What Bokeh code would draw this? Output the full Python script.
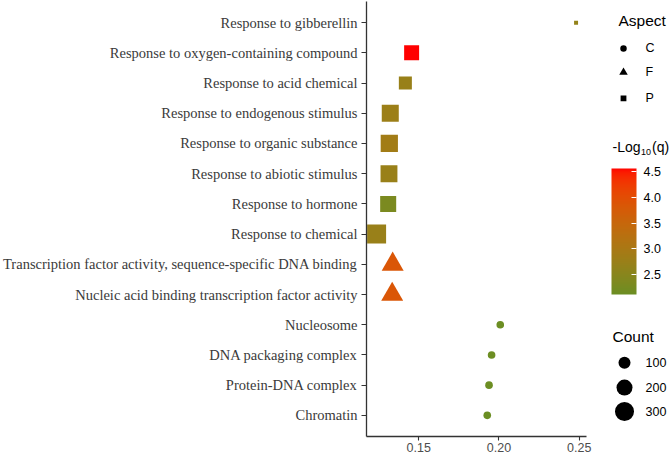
import numpy as np
from bokeh.plotting import figure
from bokeh.models import (ColumnDataSource, Range1d, FactorRange, FixedTicker, NumeralTickFormatter,
                          LinearColorMapper, ColorBar)
from bokeh.layouts import row
from bokeh.core.properties import value
from bokeh.embed import file_html
from bokeh.resources import INLINE

# ---------------- data (top to bottom as displayed) ----------------
terms = [
    "Response to gibberellin",
    "Response to oxygen-containing compound",
    "Response to acid chemical",
    "Response to endogenous stimulus",
    "Response to organic substance",
    "Response to abiotic stimulus",
    "Response to hormone",
    "Response to chemical",
    "Transcription factor activity, sequence-specific DNA binding",
    "Nucleic acid binding transcription factor activity",
    "Nucleosome",
    "DNA packaging complex",
    "Protein-DNA complex",
    "Chromatin",
]
aspect = ["P", "P", "P", "P", "P", "P", "P", "P", "F", "F", "C", "C", "C", "C"]
rich = [0.248, 0.1456, 0.1417, 0.1323, 0.1317, 0.1315, 0.1310, 0.1238,
        0.1338, 0.1335, 0.2008, 0.1954, 0.1938, 0.1927]
neglogq = [2.65, 4.56, 2.72, 2.78, 2.88, 2.74, 2.32, 2.74,
           3.86, 3.86, 2.12, 2.13, 2.12, 2.11]
count = [5, 228, 164, 305, 315, 300, 266, 390, 209, 209, 30, 30, 30, 30]

x_ticks = [0.15, 0.20, 0.25]
cbar_ticks = [2.5, 3.0, 3.5, 4.0, 4.5]
count_breaks = [100, 200, 300]
aspect_levels = ["C", "F", "P"]

# ---------------- styling helpers ----------------
SERIF = "Liberation Serif"
SANS = "Liberation Sans"
marker_of = {"C": "circle", "F": "triangle", "P": "square"}
shape_factor = {"C": 1.0, "F": 1.35, "P": 0.886}
DMIN, DMAX = 4.5, 21.4
cmin, cmax = min(count), max(count)


def diam(c):
    return DMIN + (DMAX - DMIN) * (np.sqrt(c) - np.sqrt(cmin)) / (np.sqrt(cmax) - np.sqrt(cmin))


def hex2rgb(h):
    h = h.lstrip("#")
    return np.array([int(h[i:i + 2], 16) for i in (0, 2, 4)], dtype=float) / 255.0


M = np.array([[0.4124564, 0.3575761, 0.1804375],
              [0.2126729, 0.7151522, 0.0721750],
              [0.0193339, 0.1191920, 0.9503041]])
WHITE = np.array([0.95047, 1.0, 1.08883])


def rgb2lab(rgb):
    lin = np.where(rgb <= 0.04045, rgb / 12.92, ((rgb + 0.055) / 1.055) ** 2.4)
    xyz = M @ lin / WHITE
    f = np.where(xyz > (6 / 29) ** 3, np.cbrt(xyz), xyz / (3 * (6 / 29) ** 2) + 4 / 29)
    return np.array([116 * f[1] - 16, 500 * (f[0] - f[1]), 200 * (f[1] - f[2])])


def lab2hex(lab):
    L, a, b = lab
    fy = (L + 16) / 116
    fx = fy + a / 500
    fz = fy - b / 200
    f = np.array([fx, fy, fz])
    xyz = np.where(f > 6 / 29, f ** 3, 3 * (6 / 29) ** 2 * (f - 4 / 29)) * WHITE
    lin = np.linalg.solve(M, xyz)
    lin = np.clip(lin, 0, 1)
    rgb = np.where(lin <= 0.0031308, 12.92 * lin, 1.055 * lin ** (1 / 2.4) - 0.055)
    rgb = np.clip(np.round(rgb * 255), 0, 255).astype(int)
    return "#%02x%02x%02x" % tuple(rgb)


lab_lo = rgb2lab(hex2rgb("#6B8E23"))
lab_hi = rgb2lab(hex2rgb("#FF0000"))
palette = [lab2hex(lab_lo + (lab_hi - lab_lo) * t) for t in np.linspace(0, 1, 256)]
qlo, qhi = min(neglogq), max(neglogq)
mapper = LinearColorMapper(palette=palette, low=qlo, high=qhi)

src = ColumnDataSource(dict(
    term=terms, rich=rich, q=neglogq, count=count,
    marker=[marker_of[a] for a in aspect],
    size=[diam(c) * shape_factor[a] for c, a in zip(count, aspect)],
))

# ---------------- main plot ----------------
H = 454
p = figure(width=592, height=H, output_backend="svg", toolbar_location=None,
           y_range=FactorRange(*list(reversed(terms)), range_padding=0.2, range_padding_units="absolute"),
           x_range=Range1d(0.1175, 0.2545),
           min_border_left=0, min_border_top=1, min_border_bottom=0, min_border_right=6)
p.outline_line_color = None
p.xgrid.visible = False
p.ygrid.visible = False
p.background_fill_color = "white"

p.scatter(x="rich", y="term", source=src, marker="marker", size="size",
          fill_color={"field": "q", "transform": mapper}, line_color=None)

for ax in (p.xaxis[0], p.yaxis[0]):
    ax.axis_label = None
    ax.axis_line_color = "#333333"
    ax.axis_line_width = 1.3
    ax.major_tick_line_color = "#333333"
    ax.major_tick_line_width = 1.1
    ax.major_tick_out = 5
    ax.major_tick_in = 0
    ax.minor_tick_line_color = None
    ax.major_label_standoff = 4

p.xaxis.major_tick_out = 4
p.xaxis.major_label_standoff = 2

p.yaxis.major_label_text_font = SERIF
p.yaxis.major_label_text_font_size = "14.5px"
p.yaxis.major_label_text_color = "#3a3a3a"

p.xaxis.ticker = FixedTicker(ticks=x_ticks)
p.xaxis.formatter = NumeralTickFormatter(format="0.00")
p.xaxis.major_label_text_font = SANS
p.xaxis.major_label_text_font_size = "12.5px"
p.xaxis.major_label_text_color = "#4d4d4d"

# ---------------- legend panel ----------------
# the row aligns this panel's frame with the main frame (page y ~1..437),
# so a y range of 437 -> 1 makes legend y equal to page pixels
LW = 78
FB = 437
lf = figure(width=LW, height=H, output_backend="svg", toolbar_location=None,
            x_range=Range1d(0, LW), y_range=Range1d(FB, 1),
            x_axis_location=None, y_axis_location=None,
            min_border=0)
lf.outline_line_color = None
lf.xgrid.visible = False
lf.ygrid.visible = False

# Aspect legend
lf.text(x=[26], y=[20], text=["Aspect"], text_font=value(SANS), text_font_size="15.5px",
        text_baseline="middle", text_align="left", text_color="black")
asp_y = [48, 72, 98]
asp_size = {"C": 6.5, "F": 8.5, "P": 5.8}
lf.scatter(x=[31] * 3, y=asp_y, marker=[marker_of[a] for a in aspect_levels],
           size=[asp_size[a] for a in aspect_levels], fill_color="black", line_color=None)
lf.text(x=[53] * 3, y=asp_y, text=aspect_levels, text_font=value(SANS), text_font_size="12.5px",
        text_baseline="middle", text_align="left", text_color="black")

# colour bar title  -Log10(q)
lf.text(x=[20], y=[147], text=["-Log"], text_font=value(SANS), text_font_size="14px",
        text_baseline="middle", text_align="left", text_color="black")
lf.text(x=[48.5], y=[152], text=["10"], text_font=value(SANS), text_font_size="9px",
        text_baseline="middle", text_align="left", text_color="black")
lf.text(x=[59.5], y=[147], text=["(q)"], text_font=value(SANS), text_font_size="14px",
        text_baseline="middle", text_align="left", text_color="black")

cb = ColorBar(color_mapper=mapper, orientation="vertical", width=25, height=126,
              location=(19, FB - 295), padding=0,
              ticker=FixedTicker(ticks=cbar_ticks),
              formatter=NumeralTickFormatter(format="0.0"),
              major_tick_line_color="white", major_tick_in=5, major_tick_out=0,
              major_tick_line_width=1.0,
              minor_tick_line_color=None, bar_line_color=None,
              major_label_text_font=SANS, major_label_text_font_size="12.5px",
              major_label_text_color="black", label_standoff=7,
              background_fill_alpha=0, border_line_color=None)
lf.add_layout(cb, "center")

# Count legend
lf.text(x=[20], y=[337], text=["Count"], text_font=value(SANS), text_font_size="15.5px",
        text_baseline="middle", text_align="left", text_color="black")
cnt_y = [363, 388, 412]
lf.scatter(x=[32] * 3, y=cnt_y, marker="circle", size=[diam(c) for c in count_breaks],
           fill_color="black", line_color=None)
lf.text(x=[53] * 3, y=cnt_y, text=[str(c) for c in count_breaks], text_font=value(SANS),
        text_font_size="12.5px", text_baseline="middle", text_align="left", text_color="black")

layout = row(p, lf)
open("out.html", "w").write(file_html(layout, INLINE))
